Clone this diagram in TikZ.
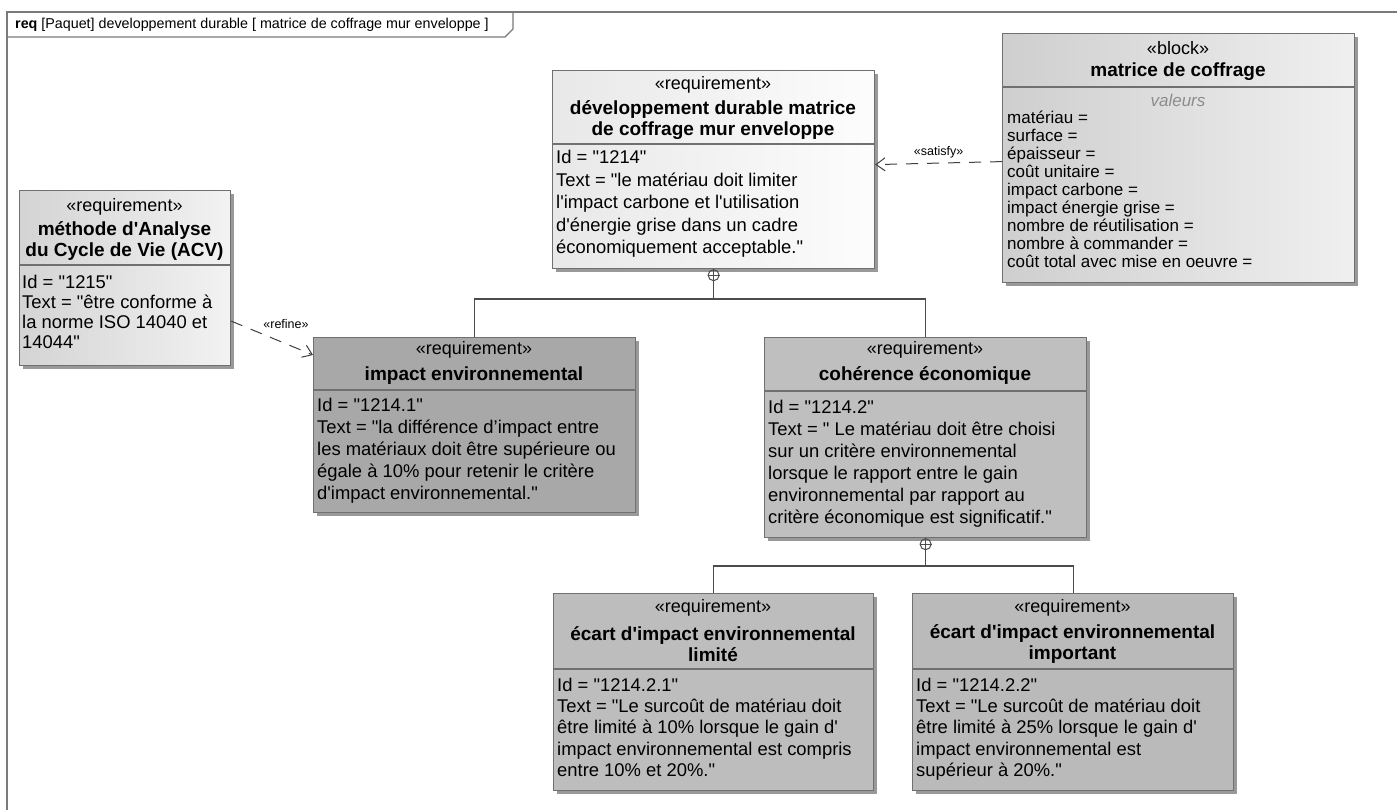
\documentclass[tikz,border=0pt]{standalone}
\usepackage{fontspec}
\setmainfont{Liberation Sans}[Ligatures=TeXOff]
\usetikzlibrary{arrows.meta}
\usetikzlibrary{shadows}
\definecolor{framegray}{HTML}{7A7A7A}
\definecolor{boxgray}{HTML}{707070}

\begin{document}
\begin{tikzpicture}[x=1pt,y=-1pt,
  box/.style={draw=boxgray, line width=1.2pt, inner sep=0pt, anchor=north west,
    drop shadow={shadow xshift=3.5pt,shadow yshift=-3.5pt,fill=black!40,opacity=1}},
  stereo/.style={font=\fontsize{18}{21}\selectfont, inner sep=0pt},
  rtitle/.style={font=\fontsize{19}{21}\selectfont\bfseries, align=center, inner sep=0pt},
  rbody/.style={font=\fontsize{18.4}{22}\selectfont, align=left, anchor=north west, inner sep=0pt},
  attr/.style={font=\fontsize{17}{18}\selectfont, align=left, anchor=north west, inner sep=0pt},
  divider/.style={draw=boxgray, line width=1.2pt},
  dep/.style={draw=black!75, line width=1pt, dash pattern=on 12pt off 9pt,
    -{Straight Barb[length=9pt,width=13pt]}},
  contain/.style={draw=black!70, line width=1.2pt},
  plus/.style={circle, draw=black!70, line width=1pt, minimum size=11pt, inner sep=0pt},
  deplbl/.style={font=\fontsize{12.5}{14}\selectfont, inner sep=0pt}
]
\useasboundingbox[fill=white] (0,0) rectangle (1397,810);

% frame
\draw[framegray, line width=2pt] (7,810) -- (7,12) -- (1397,12);
\draw[framegray, line width=1.2pt] (7,37) -- (505,37) -- (513,29) -- (513,12);
\node[anchor=west, font=\fontsize{14.3}{16}\selectfont, inner sep=0pt] (frametitle) at (15,24.5)
  {\textbf{req} [Paquet] developpement durable [ matrice de coffrage mur enveloppe ]};

% boxes
\node[box, left color=black!9, right color=black!1, minimum width=322pt, minimum height=198pt] (dd) at (552,70) {};
\node[box, left color=black!19, right color=black!6, minimum width=352pt, minimum height=249pt] (mc) at (1002,33) {};
\node[box, left color=black!17, right color=black!5, minimum width=211pt, minimum height=175pt] (acv) at (19,190) {};
\node[box, fill=black!34, minimum width=322pt, minimum height=175pt] (ie) at (313,337) {};
\node[box, fill=black!25, minimum width=322pt, minimum height=200pt] (ce) at (764,337) {};
\node[box, fill=black!26, minimum width=320pt, minimum height=197pt] (el) at (553,593) {};
\node[box, fill=black!27, minimum width=321pt, minimum height=197pt] (ei) at (912,593) {};

\draw[divider] (dd.west |- 0,144) -- (dd.east |- 0,144);
\draw[divider] (mc.west |- 0,87) -- (mc.east |- 0,87);
\draw[divider] (acv.west |- 0,265) -- (acv.east |- 0,265);
\draw[divider] (ie.west |- 0,390) -- (ie.east |- 0,390);
\draw[divider] (ce.west |- 0,391) -- (ce.east |- 0,391);
\draw[divider] (el.west |- 0,669) -- (el.east |- 0,669);
\draw[divider] (ei.west |- 0,669) -- (ei.east |- 0,669);

% développement durable
\node[stereo] (ddst) at (713,85) {«requirement»};
\node[rtitle] (ddti) at (713,120.5) {développement durable matrice\\de coffrage mur enveloppe};
\node[rbody, font=\fontsize{18.4}{22.5}\selectfont] (ddtx) at (556,150) {Id = "1214"\\Text = "le matériau doit limiter\\l'impact carbone et l'utilisation\\d'énergie grise dans un cadre\\économiquement acceptable."};

% matrice de coffrage
\node[stereo] (mcst) at (1178,48) {«block»};
\node[rtitle] (mcti) at (1178,72) {matrice de coffrage};
\node[stereo, font=\fontsize{17}{18}\selectfont\itshape, text=black!45] (mcval) at (1178,100) {valeurs};
\node[attr] (mcat) at (1007,111) {matériau =\\surface =\\épaisseur =\\coût unitaire =\\impact carbone =\\impact énergie grise =\\nombre de réutilisation =\\nombre à commander =\\coût total avec mise en oeuvre =};

% ACV
\node[stereo] (acvst) at (124.5,207) {«requirement»};
\node[rtitle] (acvti) at (124.5,241) {méthode d'Analyse\\du Cycle de Vie (ACV)};
\node[rbody, font=\fontsize{18.4}{20}\selectfont] (acvtx) at (22,275) {Id = "1215"\\Text = "être conforme à\\la norme ISO 14040 et\\14044"};

% impact environnemental
\node[stereo] (iest) at (474,350) {«requirement»};
\node[rtitle] (ieti) at (474,376) {impact environnemental};
\node[rbody] (ietx) at (317,398) {Id = "1214.1"\\Text = "la différence d’impact entre\\les matériaux doit être supérieure ou\\égale à 10\% pour retenir le critère\\d'impact environnemental."};

% cohérence économique
\node[stereo] (cest) at (925,350) {«requirement»};
\node[rtitle] (ceti) at (925,376) {cohérence économique};
\node[rbody] (cetx) at (768,400) {Id = "1214.2"\\Text = " Le matériau doit être choisi\\sur un critère environnemental\\lorsque le rapport entre le gain\\environnemental par rapport au\\critère économique est significatif."};

% écart limité
\node[stereo] (elst) at (713,608) {«requirement»};
\node[rtitle] (elti) at (713,644) {écart d'impact environnemental\\limité};
\node[rbody, font=\fontsize{18.4}{21.2}\selectfont] (eltx) at (557,678) {Id = "1214.2.1"\\Text = "Le surcoût de matériau doit\\être limité à 10\% lorsque le gain d'\\impact environnemental est compris\\entre 10\% et 20\%."};

% écart important
\node[stereo] (eist) at (1072.5,608) {«requirement»};
\node[rtitle] (eiti) at (1072.5,644) {écart d'impact environnemental\\important};
\node[rbody, font=\fontsize{18.4}{21.2}\selectfont] (eitx) at (916,678) {Id = "1214.2.2"\\Text = "Le surcoût de matériau doit\\être limité à 25\% lorsque le gain d'\\impact environnemental est\\supérieur à 20\%."};

% containment
\node[plus, anchor=north] (ddplus) at (dd.south) {};
\draw[contain] (ddplus.north) -- (ddplus.south) (ddplus.west) -- (ddplus.east);
\coordinate (ddj) at (ddplus.south |- 0,299);
\draw[contain] (ddplus.south) -- (ddj);
\draw[contain] (ie.north) |- (ddj) -| (ce.north);

\node[plus, anchor=north] (ceplus) at (ce.south) {};
\draw[contain] (ceplus.north) -- (ceplus.south) (ceplus.west) -- (ceplus.east);
\coordinate (cej) at (ceplus.south |- 0,566);
\draw[contain] (ceplus.south) -- (cej);
\draw[contain] (el.north) |- (cej) -| (ei.north);

% dependencies
\draw[dep] ([yshift=-43pt]acv.east) -- node[deplbl, pos=0.67, above=15pt] (refl) {«refine»} ([yshift=-18pt]ie.north west);
\draw[dep] ([yshift=-3.5pt]mc.west) -- node[deplbl, above=5pt] (satl) {«satisfy»} ([yshift=5pt]dd.east);
\end{tikzpicture}
\end{document}
